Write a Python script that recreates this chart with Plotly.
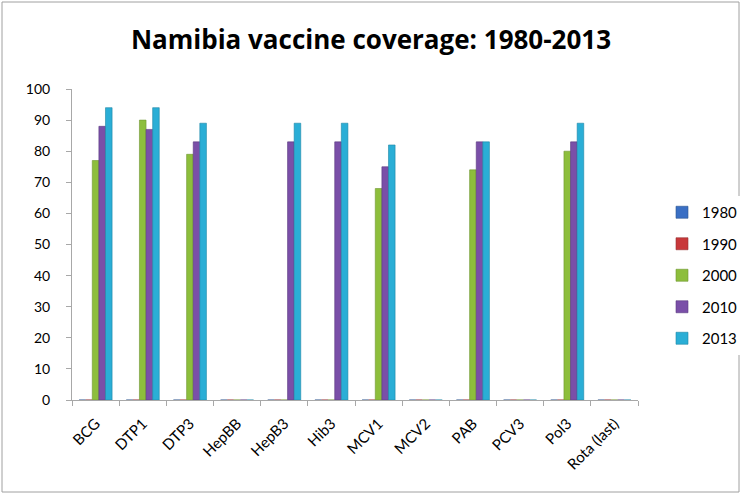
import plotly.graph_objects as go

categories = ["BCG", "DTP1", "DTP3", "HepBB", "HepB3", "Hib3", "MCV1", "MCV2", "PAB", "PCV3", "Pol3", "Rota (last)"]
years = ["1980", "1990", "2000", "2010", "2013"]
v1980 = [0, 0, 0, 0, 0, 0, 0, 0, 0, 0, 0, 0]
v1990 = [0, 0, 0, 0, 0, 0, 0, 0, 0, 0, 0, 0]
v2000 = [77, 90, 79, 0, 0, 0, 68, 0, 74, 0, 80, 0]
v2010 = [88, 87, 83, 0, 83, 83, 75, 0, 83, 0, 83, 0]
v2013 = [94, 94, 89, 0, 89, 89, 82, 0, 83, 0, 89, 0]
series = [v1980, v1990, v2000, v2010, v2013]
colors = ["#3A6FC4", "#C8383A", "#8DBE3C", "#7A4FA8", "#2AAED6"]
lines = ["#2B568F", "#963033", "#6E9630", "#5B3B80", "#1E86A6"]

FONT = "Lato"
W, H = 742, 495
ML, MR, MT, MB = 72, 104, 89, 95

fig = go.Figure()
for y, vals, c, lc in zip(years, series, colors, lines):
    fig.add_trace(go.Bar(
        x=categories, y=vals, name=y, legendgroup=y,
        marker=dict(color=c, line=dict(color=lc, width=0.6)),
    ))

pw = W - ML - MR
ph = H - MT - MB
fig.add_shape(type="rect", xref="paper", yref="paper",
              x0=-(ML - 2) / pw, x1=1 + (MR - 3) / pw,
              y0=-(MB - 3) / ph, y1=1 + (MT - 2) / ph,
              line=dict(color="#A0A0A0", width=1), fillcolor="rgba(0,0,0,0)", layer="below")

fig.update_layout(
    width=W, height=H,
    margin=dict(l=ML, r=MR, t=MT, b=MB, autoexpand=False),
    paper_bgcolor="white", plot_bgcolor="white",
    barmode="group", bargap=0.3, bargroupgap=0.0,
    title=dict(text="<b>Namibia vaccine coverage: 1980-2013</b>", x=0.5, xref="container",
               xanchor="center", y=1 - 40 / H, yanchor="middle",
               font=dict(family="Open Sans", size=26, color="black")),
    font=dict(family=FONT, size=14, color="black"),
    legend=dict(xref="container", yref="container", x=662 / W, y=1 - 196 / H,
                xanchor="left", yanchor="top",
                font=dict(family=FONT, size=15), tracegroupgap=9, traceorder="grouped",
                itemwidth=30),
    showlegend=True,
)
fig.update_xaxes(showline=True, linecolor="#A8A8A8", linewidth=1, ticks="outside",
                 tickson="boundaries", ticklen=5, tickcolor="#A8A8A8", tickangle=-45,
                 showgrid=False, automargin=False, ticklabelstandoff=8,
                 tickfont=dict(family=FONT, size=15))
fig.update_yaxes(range=[0, 100], dtick=10, showline=True, linecolor="#A8A8A8", linewidth=1,
                 ticks="outside", ticklen=5, tickcolor="#A8A8A8", showgrid=False,
                 zeroline=False, automargin=False, ticklabelstandoff=13,
                 tickfont=dict(family=FONT, size=14))

fig.write_html("out.html", config={"displayModeBar": False},
               post_script="document.body.style.margin='0';")
